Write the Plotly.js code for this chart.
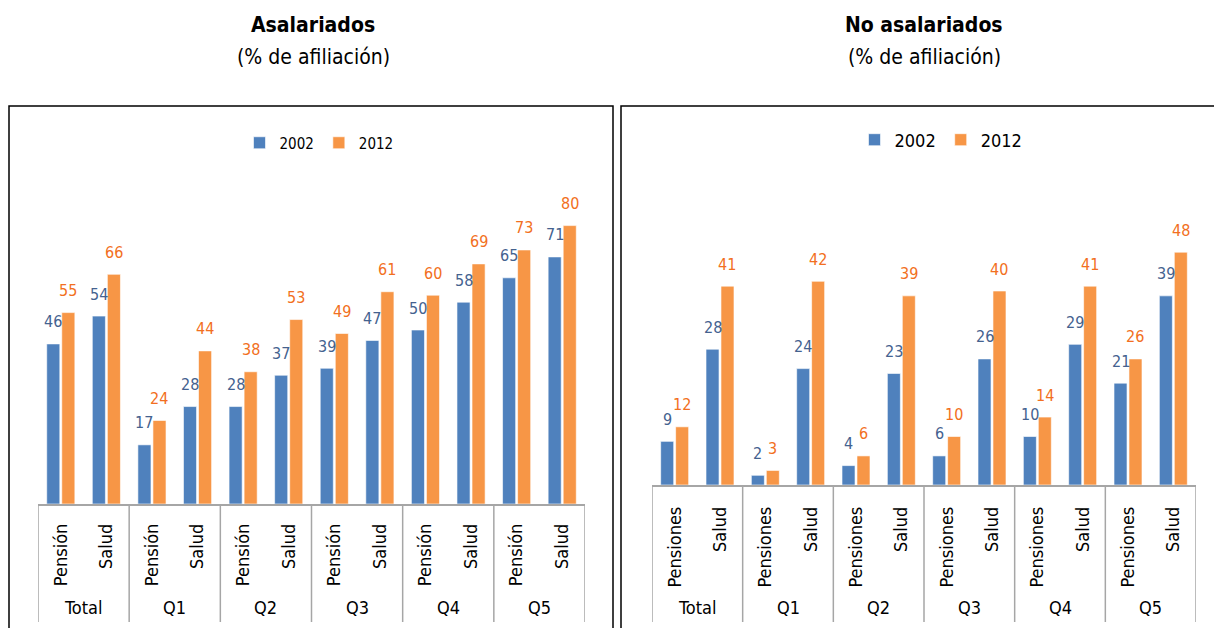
<!DOCTYPE html>
<html>
<head>
<meta charset="utf-8">
<script src="https://cdn.plot.ly/plotly-3.0.1.min.js"></script>
<style>
  html, body { margin: 0; padding: 0; background: #fff; }
  #chart { width: 1214px; height: 628px; }
</style>
</head>
<body>
<div id="chart"></div>
<script>
// Coverage by income quintile: wage earners vs. non-wage earners
const groups = ['Total', 'Q1', 'Q2', 'Q3', 'Q4', 'Q5'];
const itemsAsal = ['Pensión', 'Salud'];
const itemsNoAsal = ['Pensiones', 'Salud'];
const years = ['2002', '2012'];

const asal2002 = [46, 54, 17, 28, 28, 37, 39, 47, 50, 58, 65, 71];
const asal2012 = [55, 66, 24, 44, 38, 53, 49, 61, 60, 69, 73, 80];
const noAsal2002 = [9, 28, 2, 24, 4, 23, 6, 26, 10, 29, 21, 39];
const noAsal2012 = [12, 41, 3, 42, 6, 39, 10, 40, 14, 41, 26, 48];

const FONT = "'Liberation Sans Narrow', 'Arial Narrow', 'DejaVu Sans Condensed', sans-serif";
const BLUE = '#4F81BD';
const ORANGE = '#F79646';
const BLUE_TXT = '#44628F';
const ORANGE_TXT = '#F26F21';
const AXIS_GREY = '#A6A6A6';

const W = 1214, H = 628;
const px = v => v / W;
const py = v => 1 - v / H;

const BARGAP = 0.34;
const BARGROUPGAP = 0.13;
const halfStep = (1 - BARGAP) / 4;

// two-level category layout: each group holds one slot per item
const nItems = 2;
const slots = groups.flatMap((g, gi) => Array.from({ length: nItems }, (_, ii) => gi * nItems + ii));
const slotLabels = items => groups.flatMap(() => items);

function barTrace(name, ys, color, xa, ya, legend) {
  return {
    type: 'bar', name: name, x: slots, y: ys,
    xaxis: xa, yaxis: ya, legend: legend,
    marker: { color: color, line: { color: 'rgba(255,255,255,0.6)', width: 1 } },
    hoverinfo: 'y'
  };
}

const data = [
  barTrace(years[0], asal2002, BLUE, 'x', 'y', 'legend'),
  barTrace(years[1], asal2012, ORANGE, 'x', 'y', 'legend'),
  barTrace(years[0], noAsal2002, BLUE, 'x2', 'y2', 'legend2'),
  barTrace(years[1], noAsal2012, ORANGE, 'x2', 'y2', 'legend2')
];

// value labels above each bar
function valueLabels(vals, sign, color, xref, yref) {
  return vals.map((v, i) => ({
    x: slots[i] + sign * halfStep, y: v, xref: xref, yref: yref,
    text: String(v), showarrow: false,
    yanchor: 'middle', yshift: 22,
    font: { family: FONT, size: 16, color: color }
  }));
}

// outer category labels, centred under each group
function groupLabels(xref, yPx) {
  return groups.map((g, gi) => ({
    x: gi * nItems + (nItems - 1) / 2, y: py(yPx), xref: xref, yref: 'paper',
    text: g, showarrow: false, xanchor: 'center', yanchor: 'middle',
    font: { family: FONT, size: 18, color: '#000' }
  }));
}

// vertical dividers between groups, from the axis line down
function dividers(xref, topPx, bottomPx) {
  return Array.from({ length: groups.length + 1 }, (_, k) => ({
    type: 'line', xref: xref, yref: 'paper',
    x0: k * nItems - 0.5, x1: k * nItems - 0.5,
    y0: py(topPx), y1: py(bottomPx),
    line: { color: AXIS_GREY, width: 1.5 }
  }));
}

const titleAnn = (x, y, text, bold) => ({
  x: px(x), y: py(y), xref: 'paper', yref: 'paper', showarrow: false,
  text: bold ? '<b>' + text + '</b>' : text,
  xanchor: 'center', yanchor: 'middle',
  font: { family: FONT, size: 21, color: '#000' }
});

const annotations = []
  .concat(valueLabels(asal2002, -1, BLUE_TXT, 'x', 'y'))
  .concat(valueLabels(asal2012, 1, ORANGE_TXT, 'x', 'y'))
  .concat(valueLabels(noAsal2002, -1, BLUE_TXT, 'x2', 'y2'))
  .concat(valueLabels(noAsal2012, 1, ORANGE_TXT, 'x2', 'y2'))
  .concat(groupLabels('x', 607))
  .concat(groupLabels('x2', 607))
  .concat([
    titleAnn(313, 25, 'Asalariados', true),
    titleAnn(313, 57, '(% de afiliación)', false),
    titleAnn(924, 25, 'No asalariados', true),
    titleAnn(924, 57, '(% de afiliación)', false)
  ]);

const xAxisBase = {
  type: 'linear',
  range: [-0.5, groups.length * nItems - 0.5],
  tickmode: 'array', tickvals: slots,
  showline: true, linecolor: AXIS_GREY, linewidth: 1.5,
  ticks: '', tickangle: -90,
  tickfont: { family: FONT, size: 18, color: '#000' },
  showgrid: false, zeroline: false, fixedrange: true
};
const yAxisBase = {
  showgrid: false, zeroline: false, showticklabels: false,
  showline: false, ticks: '', fixedrange: true
};

const legendBase = {
  orientation: 'h', xanchor: 'center', yanchor: 'middle',
  bgcolor: 'rgba(0,0,0,0)', traceorder: 'normal',
  itemwidth: 30, itemclick: false, itemdoubleclick: false
};

const layout = {
  width: W, height: H,
  margin: { l: 0, r: 0, t: 0, b: 0 },
  paper_bgcolor: '#fff', plot_bgcolor: 'rgba(0,0,0,0)',
  font: { family: FONT, color: '#000' },
  barmode: 'group', bargap: BARGAP, bargroupgap: BARGROUPGAP,
  showlegend: true,
  xaxis: Object.assign({}, xAxisBase, {
    domain: [px(38), px(585)], anchor: 'y', ticklabelstandoff: 11,
    ticktext: slotLabels(itemsAsal)
  }),
  yaxis: Object.assign({}, yAxisBase, { domain: [py(504), py(156)], range: [0, 100], anchor: 'x' }),
  xaxis2: Object.assign({}, xAxisBase, {
    domain: [px(652), px(1196)], anchor: 'y2', ticklabelstandoff: 13,
    ticktext: slotLabels(itemsNoAsal)
  }),
  yaxis2: Object.assign({}, yAxisBase, { domain: [py(485), py(194)], range: [0, 60], anchor: 'x2' }),
  legend: Object.assign({}, legendBase, { x: px(319), y: py(143), font: { family: FONT, size: 15, color: '#000' } }),
  legend2: Object.assign({}, legendBase, { x: px(941), y: py(140), font: { family: FONT, size: 18, color: '#000' } }),
  annotations: annotations,
  shapes: [
    { type: 'rect', xref: 'paper', yref: 'paper', x0: px(9), x1: px(613), y0: -0.1, y1: py(106),
      line: { color: '#000', width: 1.5 } },
    { type: 'rect', xref: 'paper', yref: 'paper', x0: px(621), x1: px(1230), y0: -0.1, y1: py(106),
      line: { color: '#000', width: 1.5 } }
  ].concat(dividers('x', 504, 622)).concat(dividers('x2', 485, 622))
};

Plotly.newPlot('chart', data, layout, { displayModeBar: false, staticPlot: true });
</script>
</body>
</html>
